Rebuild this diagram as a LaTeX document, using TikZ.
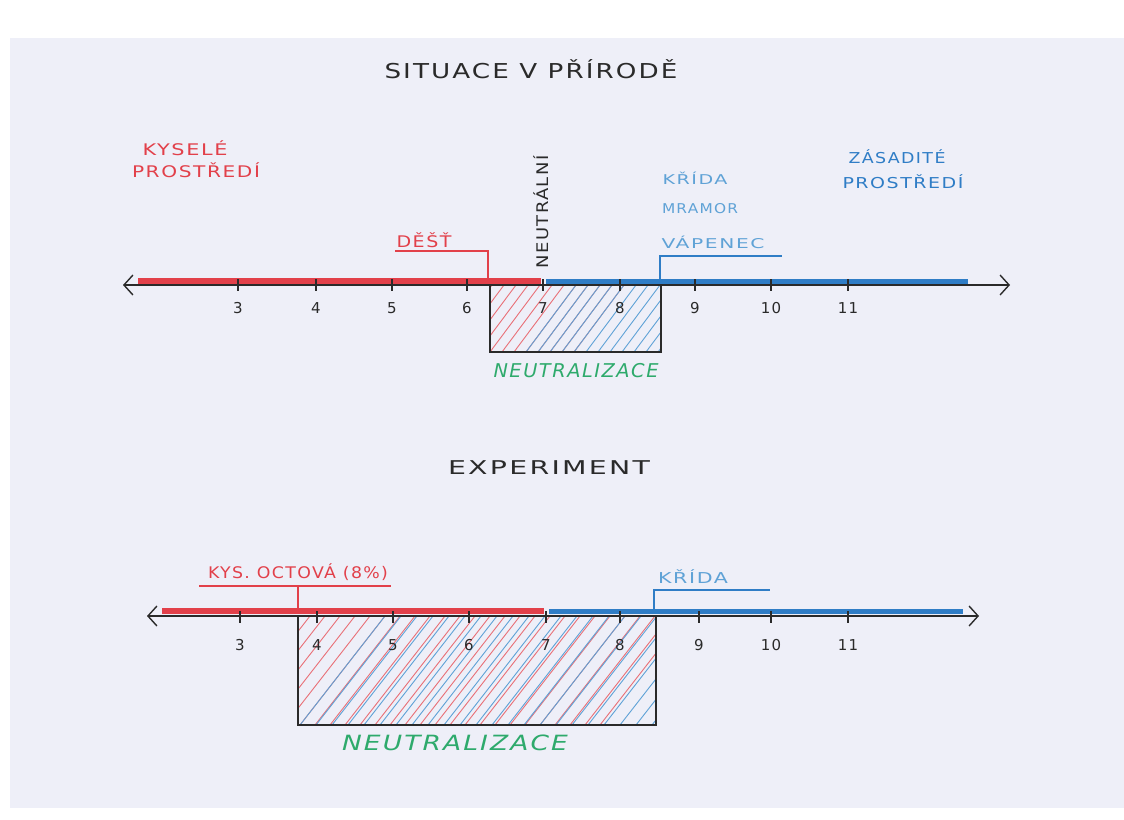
\documentclass[tikz,border=0pt]{standalone}
\usepackage{fontspec}
\usepackage{graphicx}
\setmainfont{DejaVu Sans}[LetterSpace=8]
\usetikzlibrary{arrows.meta}
\definecolor{paper}{HTML}{EEEFF8}
\definecolor{cred}{HTML}{E2404A}
\definecolor{cblue}{HTML}{2F7DC6}
\definecolor{lblue}{HTML}{5FA2D6}
\definecolor{cgreen}{HTML}{2EAA6C}
\definecolor{ink}{HTML}{2A2A2A}
\newlength\hwlen
\newcommand\hw[2]{\settowidth\hwlen{#2}\pgfmathsetmacro\hwr{#1/\hwlen}\scalebox{\hwr}[1]{#2}}
\tikzset{
  axis/.style={ink, line width=1.4pt, {Straight Barb[length=9pt,width=20pt]}-{Straight Barb[length=9pt,width=20pt]}},
  redbar/.style={cred, line width=5.5pt},
  bluebar/.style={cblue, line width=5pt},
  tick/.style={ink, line width=1.7pt},
  num/.style={ink, font=\fontsize{15}{15}\selectfont},
  lab/.style={anchor=base, inner sep=0pt},
  title/.style={lab, ink, font=\fontsize{20.5}{20}\selectfont},
  redlab/.style={lab, cred, font=\fontsize{16}{16}\selectfont},
  bluelab/.style={lab, lblue, font=\fontsize{13.5}{14}\selectfont},
  zaslab/.style={lab, cblue, font=\fontsize{15}{15}\selectfont},
  greenlab/.style={lab, cgreen, font=\fontsize{19}{19}\selectfont\itshape},
  box/.style={ink, line width=1.1pt},
  rbrack/.style={cred, line width=1.1pt},
  bbrack/.style={cblue, line width=1.8pt},
  rhatch/.style={cred!75, line width=0.9pt},
  bhatch/.style={lblue, line width=0.9pt},
}
\begin{document}
\begin{tikzpicture}[x=1pt,y=-1pt]
\useasboundingbox (0,0) rectangle (1124,819);
\fill[white] (0,0) rectangle (1124,819);
\fill[paper] (10,38) rectangle (1124,808);

% ---------- top: situation in nature ----------
\node[title] (t1) at (531,78) {\hw{293}{SITUACE V PŘÍRODĚ}};
\node[redlab] (kys1) at (185,155) {\hw{85}{KYSELÉ}};
\node[redlab] (kys2) at (196,177) {\hw{128}{PROSTŘEDÍ}};
\node[zaslab] (zas1) at (897,163) {\hw{97}{ZÁSADITÉ}};
\node[zaslab] (zas2) at (903,188) {\hw{121}{PROSTŘEDÍ}};
\node[bluelab] (krida1) at (695,184) {\hw{65}{KŘÍDA}};
\node[bluelab] (mramor) at (700,213) {\hw{76}{MRAMOR}};
\node[bluelab] (vap) at (713,248) {\hw{103}{VÁPENEC}};
\node[redlab] (dest) at (424,247) {\hw{55}{DĚŠŤ}};
\node[ink, font=\fontsize{16}{16}\selectfont, rotate=90, inner sep=0pt] (neut) at (541,212) {\hw{113}{NEUTRÁLNÍ}};

% hatch
\begin{scope}
\clip (490,285) rectangle (661,352);
\foreach \x in {430,442,...,580} \draw[rhatch] (\x,352) -- ++(50,-67);
\foreach \x in {526,538,...,680} \draw[bhatch] (\x,352) -- ++(50,-67);
\end{scope}
\coordinate (b1a) at (490,285);
\coordinate (b1b) at (661,285);
\draw[box] (b1a) -- (490,352) -- (661,352) -- (b1b);

\coordinate (rl1) at (138,281);
\coordinate (rr1) at (541,281);
\coordinate (bl1) at (546,281);
\coordinate (br1) at (968,281);
\draw[redbar] (rl1) -- (rr1);
\draw[bluebar] (bl1) -- (br1);
\coordinate (al1) at (123,285);
\coordinate (ar1) at (1010,285);
\draw[axis] (al1) -- (ar1);

\foreach \n/\x in {3/238,4/316,5/392,6/467,7/543,8/620,9/695,10/771,11/848}{
  \draw[tick] (\x,279) -- (\x,291);
  \node[num] (n1-\n) at (\x,308) {\n};
}

% brackets
\coordinate (dl) at (395,251);
\coordinate (dr) at (488,251);
\coordinate (dd) at (488,283);
\draw[rbrack] (dl) -- (dr) -- (dd);
\coordinate (kd) at (660,281);
\coordinate (ku) at (660,256);
\coordinate (kr) at (782,256);
\draw[bbrack] (kd) -- (ku) -- (kr);

\node[greenlab] (neu1) at (576,377) {\hw{165}{NEUTRALIZACE}};

% ---------- bottom: experiment ----------
\node[title, font=\fontsize{19}{19}\selectfont] (t2) at (549,474) {\hw{202}{EXPERIMENT}};
\node[redlab] (oct) at (298,578) {\hw{180}{KYS. OCTOVÁ (8\%)}};
\node[bluelab, font=\fontsize{15}{15}\selectfont] (krida2) at (693,583) {\hw{70}{KŘÍDA}};

\begin{scope}
\clip (298,616) rectangle (656,725);
\foreach \x in {210,225,...,600} \draw[rhatch] (\x,725) -- ++(85,-109);
\foreach \x in {300,316,...,680} \draw[bhatch] (\x,725) -- ++(85,-109);
\end{scope}
\coordinate (b2a) at (298,616);
\coordinate (b2b) at (656,616);
\draw[box] (b2a) -- (298,725) -- (656,725) -- (b2b);

\coordinate (rl2) at (162,611);
\coordinate (rr2) at (544,611);
\coordinate (bl2) at (549,611);
\coordinate (br2) at (963,611);
\draw[redbar] (rl2) -- (rr2);
\draw[bluebar] (bl2) -- (br2);
\coordinate (al2) at (147,616);
\coordinate (ar2) at (979,616);
\draw[axis] (al2) -- (ar2);

\foreach \n/\x in {3/240,4/317,5/393,6/469,7/546,8/620,9/699,10/771,11/848}{
  \draw[tick] (\x,611) -- (\x,623);
  \node[num] (n2-\n) at (\x,645) {\n};
}

\coordinate (ol) at (199,586);
\coordinate (or) at (391,586);
\coordinate (om) at (298,586);
\coordinate (od) at (298,609);
\draw[rbrack] (ol) -- (or);
\draw[rbrack] (om) -- (od);
\coordinate (k2d) at (654,610);
\coordinate (k2u) at (654,590);
\coordinate (k2r) at (770,590);
\draw[bbrack] (k2d) -- (k2u) -- (k2r);

\node[greenlab, font=\fontsize{21}{21}\selectfont\itshape] (neu2) at (455,750) {\hw{226}{NEUTRALIZACE}};
\end{tikzpicture}
\end{document}
